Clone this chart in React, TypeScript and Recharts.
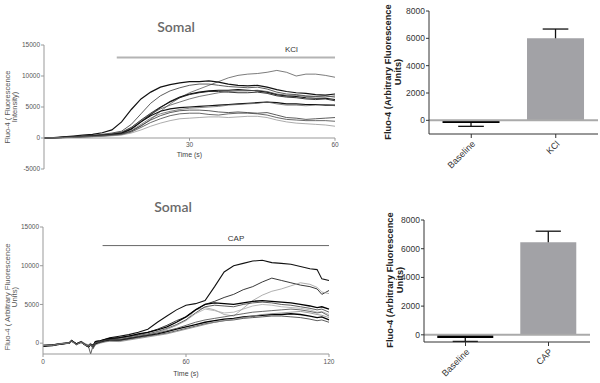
import React from "react";
import {
  Bar, BarChart, Cell, Line, LineChart, ReferenceDot, ReferenceLine, XAxis, YAxis,
} from "recharts";

const FONT = '"Liberation Sans", Arial, Helvetica, sans-serif';

// ---- KCl somal traces (time in s, every 2 s) ----
const kclTime = [0, 2, 4, 6, 8, 10, 12, 14, 16, 18, 20, 22, 24, 26, 28, 30, 32, 34, 36, 38, 40, 42, 44, 46, 48, 50, 52, 54, 56, 58, 60];
const kclTraces = [
  [0, 60, 120, 200, 280, 380, 480, 600, 750, 1100, 1900, 3000, 4300, 5500, 6500, 7300, 7900, 8500, 9100, 9700, 10100, 10300, 10400, 10600, 10900, 10600, 10000, 10300, 10300, 10100, 9800],
  [0, 80, 180, 300, 450, 600, 850, 1300, 2600, 4600, 6300, 7400, 8200, 8600, 8900, 9100, 9100, 9200, 9000, 8700, 8500, 8400, 8500, 8200, 7800, 7500, 7300, 7200, 7000, 6900, 7100],
  [0, 50, 120, 220, 330, 450, 600, 800, 1100, 2200, 3900, 5600, 6800, 7600, 8100, 8500, 8700, 8700, 8500, 8300, 8200, 8100, 8200, 7900, 7400, 7100, 7000, 6800, 6700, 6800, 6600],
  [0, 40, 100, 180, 260, 350, 480, 650, 900, 1700, 2900, 4000, 5000, 5800, 6500, 7000, 7300, 7500, 7500, 7400, 7300, 7300, 7400, 7200, 6800, 6600, 6500, 6300, 6200, 6300, 6000],
  [0, 30, 90, 160, 240, 330, 440, 600, 800, 1500, 2600, 3800, 4900, 5900, 6600, 7100, 7400, 7600, 7700, 7700, 7800, 7700, 7600, 7400, 7000, 6800, 6700, 6500, 6400, 6400, 6200],
  [0, 40, 110, 190, 280, 380, 520, 700, 950, 1700, 2800, 3900, 4700, 5300, 5800, 6300, 6700, 7000, 7300, 7500, 7600, 7600, 7700, 7500, 7100, 6900, 6900, 6700, 6700, 6600, 6800],
  [0, 40, 100, 170, 250, 330, 430, 560, 750, 1400, 2600, 3600, 4300, 4700, 4900, 5000, 5100, 5200, 5300, 5400, 5500, 5600, 5700, 5800, 5700, 5500, 5500, 5400, 5400, 5300, 5300],
  [0, 30, 80, 140, 210, 290, 380, 500, 650, 1200, 2200, 3200, 3900, 4300, 4600, 4800, 4900, 5000, 5100, 5300, 5400, 5500, 5600, 5800, 5500, 5300, 5300, 5200, 5300, 5400, 5200],
  [0, 30, 70, 120, 180, 250, 340, 450, 600, 1100, 2000, 2900, 3600, 4100, 4400, 4500, 4500, 4400, 4200, 4100, 4200, 4100, 4000, 4100, 3700, 3300, 3200, 3000, 3100, 3200, 3300],
  [0, 20, 60, 110, 170, 230, 310, 410, 550, 950, 1700, 2500, 3100, 3600, 3900, 4000, 4000, 3800, 3700, 3900, 4000, 4000, 3900, 3700, 3300, 3000, 2900, 2800, 2800, 2800, 2700],
  [0, 20, 50, 90, 140, 200, 270, 360, 480, 800, 1300, 1900, 2400, 2800, 3100, 3200, 3300, 3400, 3400, 3300, 3400, 3500, 3500, 3300, 2900, 2600, 2400, 2300, 2200, 2100, 1900],
];
const kclStroke = ["#444", "#111", "#333", "#222", "#111", "#555", "#111", "#555", "#333", "#444", "#888"];
const kclWidth = [0.7, 1.2, 0.8, 0.9, 1.1, 0.8, 1.1, 0.7, 0.8, 0.8, 0.7];
const kclXTicks = [30, 60];
const kclYTicks = [-5000, 0, 5000, 10000, 15000];
const kclOn = [15, 60];
const kclOnY = 13000;
const kclLabelAt = 51;

// ---- CAP somal traces ----
const capTime = [0, 4, 8, 11, 12, 14, 16, 18, 19, 20, 21, 22, 24, 26, 28, 32, 36, 40, 44, 48, 52, 56, 60, 64, 68, 72, 76, 80, 84, 88, 92, 96, 100, 104, 108, 112, 115, 117, 120];
const capTraces = [
  [-300, -200, -50, 50, 350, -100, 200, -200, -300, -100, -400, 200, 300, 500, 700, 900, 1100, 1400, 1800, 2700, 3500, 4300, 4900, 5100, 5500, 7300, 9200, 10000, 10300, 10600, 10700, 10400, 10300, 10200, 9900, 9600, 9500, 8300, 8100],
  [-350, -250, -100, 0, 300, -200, 100, -300, -500, -300, -200, 0, 200, 400, 500, 700, 900, 1100, 1400, 1800, 2300, 2900, 3400, 4300, 5000, 5400, 5900, 6300, 6900, 7300, 7900, 8400, 8100, 7800, 7500, 7300, 7000, 6300, 6800],
  [-250, -200, 0, 100, 400, -50, 250, -100, -200, 0, -500, 100, 150, 300, 400, 500, 700, 900, 1100, 1400, 1800, 2300, 3000, 4300, 4600, 4300, 3700, 3500, 4500, 5500, 6200, 6700, 7000, 7400, 7800, 7600, 7200, 6600, 6400],
  [-300, -250, -50, 0, 300, -150, 150, -250, -400, -200, -300, 200, 300, 450, 600, 700, 900, 1200, 1400, 1700, 2100, 2700, 3400, 4300, 5000, 5200, 5100, 5000, 5200, 5400, 5500, 5400, 5300, 5200, 5000, 4800, 4600, 4700, 4400],
  [-350, -200, -100, 50, 350, -100, 100, -200, -350, -1400, -300, 100, 250, 400, 500, 600, 800, 1000, 1200, 1500, 1900, 2400, 3000, 3900, 4700, 4900, 4800, 4700, 5000, 5200, 5300, 5200, 5000, 4900, 4700, 4500, 4300, 4400, 4000],
  [-300, -250, -50, 0, 250, -200, 200, -150, -250, -100, -400, 0, 100, 250, 350, 500, 700, 900, 1100, 1400, 1800, 2300, 2900, 3800, 4400, 4200, 3900, 4000, 4400, 4800, 5000, 4900, 4700, 4600, 4500, 4300, 4000, 4100, 3700],
  [-400, -300, -100, 0, 300, -100, 150, -300, -450, -200, -600, -100, 100, 300, 400, 400, 600, 800, 1000, 1200, 1500, 1800, 2100, 2400, 2700, 2900, 3100, 3200, 3400, 3500, 3600, 3700, 3700, 3800, 3700, 3500, 3300, 3400, 3000],
  [-300, -250, -50, 50, 350, -150, 100, -200, -300, -100, -300, 0, 100, 200, 300, 300, 500, 700, 900, 1100, 1300, 1600, 1900, 2200, 2500, 2700, 2900, 3000, 3200, 3300, 3400, 3500, 3500, 3400, 3300, 3100, 2900, 3000, 2700],
  [-350, -200, -100, 0, 300, -100, 200, -250, -350, -300, -500, 50, 200, 350, 450, 450, 650, 850, 1050, 1300, 1600, 1900, 2300, 2700, 3000, 3200, 3400, 3600, 3800, 4000, 4100, 4200, 4300, 4400, 4300, 4100, 3900, 4000, 3500],
  [-300, -300, -50, 0, 250, -200, 100, -300, -400, -200, -700, -200, 0, 150, 250, 200, 400, 600, 800, 1000, 1200, 1500, 1800, 2100, 2400, 2700, 2900, 3100, 3300, 3500, 3700, 3800, 3900, 4000, 4100, 3900, 3700, 3600, 3300],
];
const capStroke = ["#111", "#222", "#999", "#000", "#333", "#aaa", "#000", "#333", "#444", "#888"];
const capWidth = [1.1, 0.9, 0.8, 1.3, 0.8, 0.8, 1.3, 0.8, 0.8, 0.8];
const capXTicks = [0, 60, 120];
const capYTicks = [0, 5000, 10000, 15000];
const capOn = [25, 120];
const capOnY = 12600;
const capLabelAt = 81;

// ---- bar summaries ----
const kclBarCats = ["Baseline", "KCl"];
const kclMean = [-200, 6000];
const kclErr = [-240, 680];
const capBarCats = ["Baseline", "CAP"];
const capMean = [-230, 6450];
const capErr = [-230, 770];
const barYTicks = [0, 2000, 4000, 6000, 8000];
const barFill = ["#000", "#a2a2a6"];

const toRows = (time: number[], traces: number[][]) =>
  time.map((t, i) => {
    const row: Record<string, number> = { t };
    traces.forEach((tr, k) => {
      row[`s${k}`] = tr[i];
    });
    return row;
  });

const kclRows = toRows(kclTime, kclTraces);
const capRows = toRows(capTime, capTraces);
const kclBars = kclBarCats.map((name, i) => ({ name, mean: kclMean[i], err: kclErr[i] }));
const capBars = capBarCats.map((name, i) => ({ name, mean: capMean[i], err: capErr[i] }));

// two-line rotated axis title (own prop names: Label injects x/y)
function SideLabel(props: any) {
  const { lx, ly, lines, size, weight, color, gap } = props;
  return (
    <text
      transform={`rotate(-90, ${lx}, ${ly})`}
      x={lx}
      y={ly}
      textAnchor="middle"
      fontSize={size}
      fontWeight={weight}
      fill={color}
    >
      {lines.map((l: string, i: number) => (
        <tspan key={i} x={lx} dy={i === 0 ? 0 : gap}>{l}</tspan>
      ))}
    </text>
  );
}

// one-sided error bar drawn on the stacked "err" segment
function ErrShape(props: any) {
  const { x, y, width, height, payload } = props;
  if (x == null || y == null || !payload) return null;
  const cx = x + width / 2;
  const a = y;
  const b = y + height;
  const far = payload.err >= 0 ? Math.min(a, b) : Math.max(a, b);
  const near = payload.err >= 0 ? Math.max(a, b) : Math.min(a, b);
  const cap = width * 0.45;
  return (
    <g>
      <line x1={cx} x2={cx} y1={near} y2={far} stroke="#111" strokeWidth={1.3} />
      <line x1={cx - cap / 2} x2={cx + cap / 2} y1={far} y2={far} stroke="#111" strokeWidth={1.3} />
    </g>
  );
}

const lineTick = { fontSize: 6.5, fill: "#555" };
const barTick = { fontSize: 8.5, fill: "#333" };

function Title({ left, top }: { left: number; top: number }) {
  return (
    <div
      style={{
        position: "absolute", left, top, width: 100, textAlign: "center",
        fontFamily: "Lato, 'Open Sans', sans-serif", fontSize: 14, lineHeight: "18px",
        color: "#6a6a6a", fontWeight: 600,
      }}
    >
      Somal
    </div>
  );
}

export default function App() {
  return (
    <div style={{ position: "absolute", left: 0, top: 0, width: 600, height: 383, background: "#fff", fontFamily: FONT }}>
      <Title left={126} top={18} />
      <Title left={123} top={198} />

      {/* KCl traces */}
      <div style={{ position: "absolute", left: 0, top: 0 }}>
        <LineChart width={360} height={190} data={kclRows} margin={{ top: 45, right: 25, bottom: 21, left: 0 }}>
          <XAxis dataKey="t" type="number" domain={[0, 60]} hide />
          <YAxis
            type="number"
            domain={[-5000, 15000]}
            ticks={kclYTicks}
            width={44}
            stroke="#999"
            tickSize={3}
            tickMargin={1}
            tick={lineTick}
            interval={0}
            label={<SideLabel lx={10} ly={107} lines={["Fluo-4 ( Fluorescence", "Intensity)"]} size={7.5} weight="normal" color="#555" gap={6.5} />}
          />
          <ReferenceLine y={0} stroke="#999" label={{ value: "Time (s)", position: "bottom", offset: 14, fontSize: 7, fill: "#444" }} />
          {kclXTicks.map((tk) => (
            <ReferenceLine
              key={tk}
              segment={[{ x: tk, y: 0 }, { x: tk, y: -450 }]}
              stroke="#999"
              label={{ value: String(tk), position: "bottom", offset: 2, fontSize: 6.5, fill: "#555" }}
            />
          ))}
          <ReferenceLine segment={[{ x: kclOn[0], y: kclOnY }, { x: kclOn[1], y: kclOnY }]} stroke="#b4b4b4" strokeWidth={2} />
          <ReferenceDot x={kclLabelAt} y={kclOnY} r={0} fill="none" stroke="none" label={{ value: "KCl", position: "top", offset: 5, fontSize: 8, fill: "#333" }} />
          {kclTraces.map((_, k) => (
            <Line
              key={k}
              dataKey={`s${k}`}
              stroke={kclStroke[k]}
              strokeWidth={kclWidth[k]}
              dot={false}
              isAnimationActive={false}
            />
          ))}
        </LineChart>
      </div>

      {/* CAP traces */}
      <div style={{ position: "absolute", left: 0, top: 190 }}>
        <LineChart width={360} height={193} data={capRows} margin={{ top: 37, right: 31, bottom: 5, left: 0 }}>
          <XAxis
            dataKey="t"
            type="number"
            domain={[0, 120]}
            ticks={capXTicks}
            height={24}
            stroke="#999"
            tickSize={3}
            tickMargin={2}
            tick={lineTick}
            interval={0}
            label={{ value: "Time (s)", position: "insideBottom", offset: 2, fontSize: 7, fill: "#444" }}
          />
          <YAxis
            type="number"
            domain={[-1400, 15000]}
            ticks={capYTicks}
            width={43}
            stroke="#999"
            tickSize={3}
            tickMargin={1}
            tick={lineTick}
            interval={0}
            label={<SideLabel lx={10} ly={107} lines={["Fluo-4 ( Arbitrary Fluorescence", "Units)"]} size={7.8} weight="normal" color="#555" gap={6.5} />}
          />
          <ReferenceLine segment={[{ x: capOn[0], y: capOnY }, { x: capOn[1], y: capOnY }]} stroke="#666" strokeWidth={1} />
          <ReferenceDot x={capLabelAt} y={capOnY} r={0} fill="none" stroke="none" label={{ value: "CAP", position: "top", offset: 5, fontSize: 8, fill: "#333" }} />
          {capTraces.map((_, k) => (
            <Line
              key={k}
              dataKey={`s${k}`}
              stroke={capStroke[k]}
              strokeWidth={capWidth[k]}
              dot={false}
              isAnimationActive={false}
            />
          ))}
        </LineChart>
      </div>

      {/* KCl bars */}
      <div style={{ position: "absolute", left: 360, top: 0 }}>
        <BarChart width={240} height={190} data={kclBars} margin={{ top: 11, right: 2, bottom: 6, left: 0 }} barCategoryGap="16%">
          <XAxis dataKey="name" height={50} stroke="#333" tickSize={4} interval={0} angle={-45} textAnchor="end" tick={{ ...barTick, fontSize: 9 }} />
          <YAxis
            domain={[-1000, 8000]}
            ticks={barYTicks}
            width={69}
            stroke="#333"
            tickSize={3}
            tickMargin={1}
            tick={barTick}
            interval={0}
            label={<SideLabel lx={31} ly={72} lines={["Fluo-4 (Arbitrary Fluorescence", "Units)"]} size={9.3} weight="bold" color="#222" gap={10} />}
          />
          <ReferenceLine y={0} stroke="#aaa" strokeWidth={2} />
          <Bar dataKey="mean" stackId="a" isAnimationActive={false}>
            {kclBars.map((_, i) => <Cell key={i} fill={barFill[i]} />)}
          </Bar>
          <Bar dataKey="err" stackId="a" shape={ErrShape} isAnimationActive={false} />
        </BarChart>
      </div>

      {/* CAP bars */}
      <div style={{ position: "absolute", left: 360, top: 190 }}>
        <BarChart width={240} height={193} data={capBars} margin={{ top: 30, right: 10, bottom: 5, left: 0 }} barCategoryGap="16%">
          <XAxis dataKey="name" height={36} stroke="#333" tickSize={4} interval={0} angle={-45} textAnchor="end" tick={{ ...barTick, fontSize: 9 }} />
          <YAxis
            domain={[-500, 8000]}
            ticks={barYTicks}
            width={64}
            stroke="#333"
            tickSize={3}
            tickMargin={1}
            tick={barTick}
            interval={0}
            label={<SideLabel lx={33} ly={90} lines={["Fluo-4 (Arbitrary Fluorescence", "Units)"]} size={9.3} weight="bold" color="#222" gap={9.5} />}
          />
          <ReferenceLine y={0} stroke="#aaa" strokeWidth={2} />
          <Bar dataKey="mean" stackId="a" isAnimationActive={false}>
            {capBars.map((_, i) => <Cell key={i} fill={barFill[i]} />)}
          </Bar>
          <Bar dataKey="err" stackId="a" shape={ErrShape} isAnimationActive={false} />
        </BarChart>
      </div>
    </div>
  );
}
